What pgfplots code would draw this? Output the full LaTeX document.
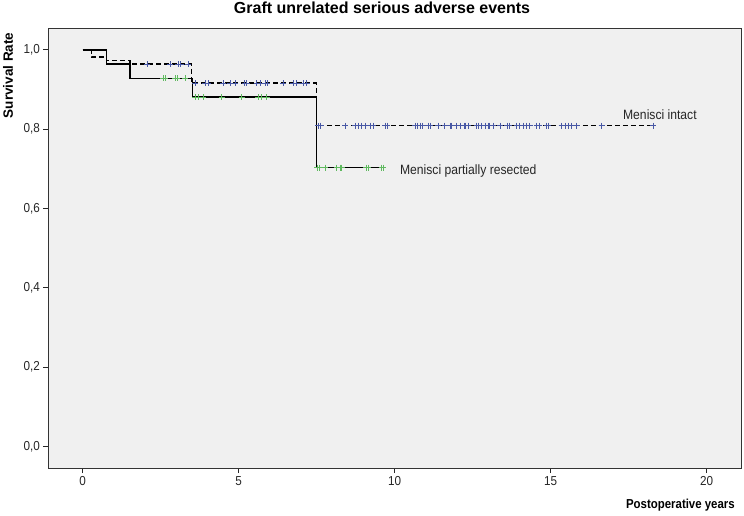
\documentclass[border=0pt]{standalone}
\usepackage{pgfplots}
\pgfplotsset{compat=1.18}
\usepackage{fontspec}
\setmainfont{Liberation Sans}
\definecolor{bgc}{RGB}{240,240,240}
\definecolor{cblue}{RGB}{72,88,165}
\definecolor{cgreen}{RGB}{95,185,95}
\begin{document}
\begin{tikzpicture}
\begin{axis}[
  width=693pt, height=440pt, scale only axis,
  xmin=-1.11, xmax=21.1, ymin=-0.054, ymax=1.055,
  axis background/.style={fill=bgc},
  axis line style={black!80, line width=0.9pt},
  tick pos=left, tick align=outside,
  major tick length=5pt,
  every tick/.style={black!85, line width=0.9pt},
  xtick={0,5,10,15,20},
  ytick={0,0.2,0.4,0.6,0.8,1.0},
  /pgf/number format/assume math mode=true,
  y tick label style={/pgf/number format/.cd, fixed, fixed zerofill, precision=1, use comma, /tikz/.cd},
  x tick label style={/pgf/number format/.cd, fixed, precision=0, /tikz/.cd},
  ticklabel style={font=\fontsize{13}{15}\selectfont, xscale=0.9, text=black!85},
  title={Graft unrelated serious adverse events},
  title style={at={(axis description cs:0.482,1.02)}, anchor=base, inner sep=0pt, font=\bfseries\fontsize{16}{19}\selectfont},
  xlabel={Postoperative years},
  xlabel style={at={(axis description cs:0.9913,-0.084)}, anchor=east, inner sep=0pt, font=\bfseries\fontsize{13}{15}\selectfont, xscale=0.88},
  ylabel={Survival Rate},
  ylabel style={at={(axis description cs:-0.0577,0.99)}, anchor=east, inner sep=0pt, font=\bfseries\fontsize{13.5}{16}\selectfont},
]
% Menisci intact (dashed)
\addplot[black, line width=1.6pt, dash pattern=on 5pt off 3pt, const plot] coordinates {
 (0,1.0) (0.29,0.982) (0.77,0.973) (1.52,0.964) (3.49,0.916) (7.5,0.809) (18.29,0.809)
};
% Menisci partially resected (solid)
\addplot[black, line width=1.6pt, const plot] coordinates {
 (0,1.0) (0.77,0.964) (1.52,0.928) (3.52,0.881) (7.5,0.703) (9.69,0.703)
};
% censor marks intact
\addplot[only marks, mark=+, mark size=3pt, cblue, line width=0.8pt] coordinates {
 (2.07,0.964) (2.80,0.964) (3.07,0.964) (3.14,0.964) (3.39,0.964)
 (3.60,0.916) (3.92,0.916) (4.03,0.916) (4.51,0.916) (4.72,0.916) (4.88,0.916) (5.20,0.916) (5.26,0.916)
 (5.58,0.916) (5.69,0.916) (5.85,0.916) (5.92,0.916) (6.43,0.916) (6.75,0.916) (6.86,0.916) (7.07,0.916) (7.18,0.916)
 (7.55,0.809) (7.63,0.809) (8.41,0.809) (8.73,0.809) (8.83,0.809) (8.94,0.809) (9.05,0.809) (9.21,0.809)
 (9.32,0.809) (9.69,0.809) (9.76,0.809) (10.65,0.809) (10.72,0.809) (10.81,0.809) (10.90,0.809) (11.08,0.809)
 (11.13,0.809) (11.40,0.809) (11.61,0.809) (11.79,0.809) (11.83,0.809) (11.99,0.809) (12.10,0.809) (12.22,0.809)
 (12.28,0.809) (12.36,0.809) (12.63,0.809) (12.68,0.809) (12.79,0.809) (12.90,0.809) (13.00,0.809) (13.05,0.809)
 (13.16,0.809) (13.38,0.809) (13.61,0.809) (13.67,0.809) (13.91,0.809) (14.01,0.809) (14.12,0.809) (14.23,0.809)
 (14.33,0.809) (14.55,0.809) (14.63,0.809) (14.87,0.809) (14.92,0.809) (15.35,0.809) (15.46,0.809) (15.56,0.809)
 (15.67,0.809) (15.83,0.809) (16.63,0.809) (18.29,0.809)
};
% censor marks partially resected
\addplot[only marks, mark=+, mark size=3pt, cgreen, line width=0.8pt] coordinates {
 (2.58,0.928) (2.64,0.928) (2.96,0.928) (3.03,0.928) (3.28,0.928)
 (3.60,0.881) (3.71,0.881) (3.87,0.881) (4.46,0.881) (5.10,0.881) (5.63,0.881) (5.74,0.881) (5.90,0.881)
 (7.52,0.703) (7.58,0.703) (7.77,0.703) (8.14,0.703) (8.25,0.703) (8.30,0.703) (9.08,0.703) (9.15,0.703)
 (9.58,0.703) (9.63,0.703)
};
\node[anchor=west, font=\fontsize{13.5}{16}\selectfont, xscale=0.9, text=black!85] at (axis cs:17.22,0.836) {Menisci intact};
\node[anchor=west, font=\fontsize{13.5}{16}\selectfont, xscale=0.9, text=black!85] at (axis cs:10.07,0.694) {Menisci partially resected};
\end{axis}
\path ([shift={(-48pt,-47pt)}]current axis.south west) rectangle ([shift={(3pt,28pt)}]current axis.north east);
\end{tikzpicture}
\end{document}
